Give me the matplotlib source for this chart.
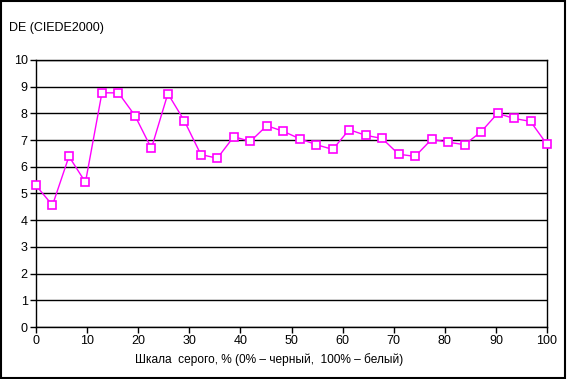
import matplotlib.pyplot as plt
import numpy as np
from matplotlib.patches import Rectangle

plt.rcParams['font.family'] = ['Liberation Sans', 'DejaVu Sans']

# gray scale steps, % (32 steps from black to white)
GRAY = np.linspace(0, 100, 32)
DE = [5.30, 4.56, 6.39, 5.42, 8.77, 8.77, 7.92, 6.69, 8.74, 7.72,
      6.46, 6.32, 7.13, 6.95, 7.54, 7.33, 7.05, 6.83, 6.65, 7.39,
      7.18, 7.06, 6.47, 6.39, 7.03, 6.92, 6.83, 7.31, 8.00, 7.81,
      7.70, 6.84]
XTICKS = list(range(0, 101, 10))
YTICKS = list(range(0, 11))


def main():
    fig = plt.figure(figsize=(5.67, 3.79), dpi=100)
    ax = fig.add_axes([36 / 567, 1 - 327 / 379, 511 / 567, 267 / 379])

    ax.set_xlim(0, 100)
    ax.set_ylim(0, 10)
    ax.set_xticks(XTICKS)
    ax.set_yticks(YTICKS)
    ax.tick_params(direction='out', length=4, width=1, labelsize=9,
                   colors='black', pad=2)
    for y in YTICKS:
        ax.axhline(y, color='black', lw=1, zorder=1)
    for s in ax.spines.values():
        s.set_color('black')
        s.set_linewidth(1)

    ax.plot(GRAY, DE, color='#ff00ff', lw=1, marker='s', markersize=6,
            markerfacecolor='white', markeredgecolor='#ff00ff',
            markeredgewidth=1.2, zorder=3, clip_on=False)

    # x title sits a bit left of the axes centre in the original
    fig.text(269 / 567, 1 - 360 / 379,
             'Шкала  серого, % (0% – черный,  100% – белый)',
             fontsize=8.6, ha='center', va='center')
    fig.text(9 / 567, 1 - 28 / 379, 'DE (CIEDE2000)', fontsize=9,
             va='center', ha='left')

    fig.patches.append(Rectangle((0.001, 0.002), 0.996, 0.995,
                                 transform=fig.transFigure, fill=False,
                                 edgecolor='black', lw=1.5))
    fig.savefig('out.png', dpi=100)


if __name__ == '__main__':
    main()
